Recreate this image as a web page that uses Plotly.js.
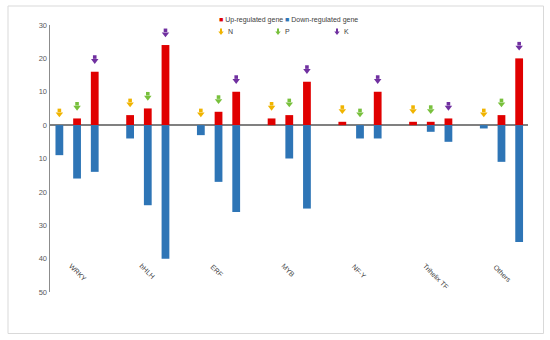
<!DOCTYPE html>
<html>
<head>
<meta charset="utf-8">
<script src="https://cdn.plot.ly/plotly-3.0.1.min.js"></script>
<style>html,body{margin:0;padding:0;background:#fff;}#chart{width:550px;height:340px;}</style>
</head>
<body>
<div id="chart"></div>
<script>
// ---- data ----
var categories = ['WRKY', 'bHLH', 'ERF', 'MYB', 'NF-Y', 'Trihelix TF', 'Others'];
var nutrients = ['N', 'P', 'K'];
var upN = [0, 3, 0, 2, 1, 1, 0];
var upP = [2, 5, 4, 3, 0, 1, 3];
var upK = [16, 24, 10, 13, 10, 2, 20];
var downN = [9, 4, 3, 0, 0, 0, 1];
var downP = [16, 24, 17, 10, 4, 2, 11];
var downK = [14, 40, 26, 25, 4, 5, 35];
var yTickVals = [30, 20, 10, 0, -10, -20, -30, -40, -50];
var yTickText = ['30', '20', '10', '0', '10', '20', '30', '40', '50'];

// ---- styles ----
var upColor = '#e00000';
var downColor = '#2e75b6';
var arrowColors = ['#f0b400', '#78c03c', '#7030a0'];
var ups = [upN, upP, upK];
var downs = [downN, downP, downK];

var xs = [], yUp = [], yDown = [];
categories.forEach(function (c, g) {
  nutrients.forEach(function (n, i) {
    xs.push(g * 4 + i);
    yUp.push(ups[i][g]);
    yDown.push(-downs[i][g]);
  });
});

var traces = [
  {type: 'bar', x: xs, y: yUp, width: 0.44, marker: {color: upColor}, name: 'Up-regulated gene', showlegend: false, hoverinfo: 'y'},
  {type: 'bar', x: xs, y: yDown, width: 0.44, marker: {color: downColor}, name: 'Down-regulated gene', showlegend: false, hoverinfo: 'y'}
];
// block arrows: stem (square) + head (triangle-down)
nutrients.forEach(function (n, i) {
  var ax = categories.map(function (c, g) { return g * 4 + i; });
  traces.push({
    type: 'scatter', mode: 'markers', name: n + ' stem', showlegend: false,
    x: ax, y: ups[i].map(function (v) { return v + 4.4; }),
    marker: {symbol: 'square', size: 3.6, color: arrowColors[i], line: {width: 0}}
  });
  traces.push({
    type: 'scatter', mode: 'markers', name: n, showlegend: false,
    x: ax, y: ups[i].map(function (v) { return v + 3.3; }),
    marker: {symbol: 'triangle-down', size: 6.5, color: arrowColors[i], line: {width: 0}}
  });
});

function px2x(p) { return (p - 50) / 478; }
function px2y(p) { return (292 - p) / 267; }

var annotations = categories.map(function (c, g) {
  return {
    x: g * 4 + 1, y: -41.3, xref: 'x', yref: 'y', text: c, showarrow: false,
    textangle: 45, xanchor: 'left', yanchor: 'top', xshift: -12, yshift: 3,
    font: {family: 'Liberation Sans, Arial', size: 7, color: '#404040'}
  };
});
annotations.push({
  xref: 'paper', yref: 'paper', x: px2x(217), y: px2y(20), xanchor: 'left', yanchor: 'middle', showarrow: false,
  text: '<span style="color:' + upColor + '">■</span> Up-regulated gene<span style="color:' + downColor + '"> ■</span> Down-regulated gene',
  font: {family: 'Liberation Sans, Arial', size: 7, color: '#404040'}
});
var legX = [221, 278, 337];
var shapes = [{
  type: 'rect', xref: 'paper', yref: 'paper', layer: 'below',
  x0: px2x(8), x1: px2x(543.5), y0: px2y(333.5), y1: px2y(6),
  line: {color: '#d9d9d9', width: 1}
}];
nutrients.forEach(function (n, i) {
  var cx = legX[i], cy = 32;
  var pts = [[cx - 1, cy - 3.5], [cx + 1, cy - 3.5], [cx + 1, cy - 0.5], [cx + 2.7, cy - 0.5],
             [cx, cy + 3], [cx - 2.7, cy - 0.5], [cx - 1, cy - 0.5]];
  var path = pts.map(function (p, k) { return (k ? 'L' : 'M') + px2x(p[0]).toFixed(5) + ',' + px2y(p[1]).toFixed(5); }).join(' ') + ' Z';
  shapes.push({type: 'path', xref: 'paper', yref: 'paper', path: path, fillcolor: arrowColors[i], line: {width: 0}});
  annotations.push({
    xref: 'paper', yref: 'paper', x: px2x(cx + 5), y: px2y(cy), xanchor: 'left', yanchor: 'middle', showarrow: false,
    text: n, font: {family: 'Liberation Sans, Arial', size: 7, color: '#404040'}
  });
});

var layout = {
  width: 550, height: 340,
  margin: {l: 50, r: 22, t: 25, b: 48},
  paper_bgcolor: '#ffffff', plot_bgcolor: '#ffffff',
  barmode: 'overlay',
  showlegend: false,
  xaxis: {range: [-0.53, 26.5], showgrid: false, zeroline: false, showline: false, showticklabels: false, ticks: ''},
  yaxis: {
    range: [-50, 30], tickvals: yTickVals, ticktext: yTickText, showgrid: false,
    zeroline: true, zerolinecolor: '#808080', zerolinewidth: 1.5,
    showline: true, linecolor: '#8c8c8c', linewidth: 1.5, ticks: '',
    tickfont: {family: 'Liberation Sans, Arial', size: 7.5, color: '#595959'}
  },
  shapes: shapes,
  annotations: annotations
};

Plotly.newPlot('chart', traces, layout, {displayModeBar: false, staticPlot: true});
</script>
</body>
</html>
